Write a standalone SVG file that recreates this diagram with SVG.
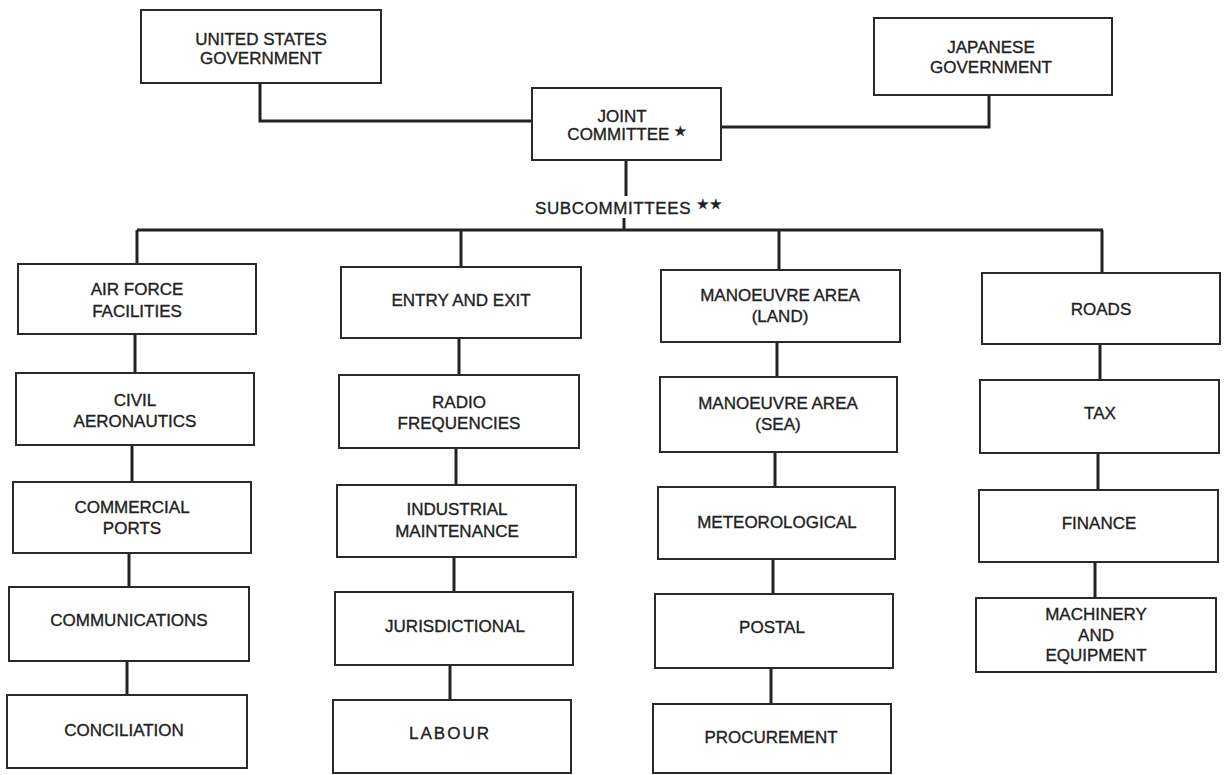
<svg xmlns="http://www.w3.org/2000/svg" width="1225" height="775" viewBox="0 0 1225 775">
<style>
.box{fill:#fff;stroke:#2a2a2a;stroke-width:2}
.lbl{font-family:"Liberation Sans",Arial,sans-serif;font-size:17px;fill:#222;stroke:#222;stroke-width:0.35;text-anchor:middle}
.star{font-family:"DejaVu Sans",sans-serif;font-size:14px}
.conn path{fill:none;stroke:#222;stroke-width:3}
</style>
<rect width="1225" height="775" fill="#fff"/>
<g class="conn" id="connectors">
<path d="M260 83 V121 H532"/>
<path d="M989 95 V127 H721"/>
<path d="M626 160 V196"/>
<path d="M624 218 V231"/>
<path d="M137 230 H1103"/>
<path d="M137 230 V265"/><path d="M135 335 V373"/><path d="M132 445 V482"/><path d="M129 553 V587"/><path d="M127 661 V695"/>
<path d="M461 230 V267"/><path d="M459 338 V375"/><path d="M456 448 V485"/><path d="M454 557 V592"/><path d="M450 665 V700"/>
<path d="M779 230 V270"/><path d="M777 342 V377"/><path d="M775 452 V487"/><path d="M773 559 V594"/><path d="M771 668 V704"/>
<path d="M1102 230 V273"/><path d="M1100 344 V380"/><path d="M1098 453 V490"/><path d="M1095 562 V598"/>
</g>
<text class="lbl" x="535" y="214" style="text-anchor:start;letter-spacing:0.6px">SUBCOMMITTEES <tspan class="star" dy="-5">★★</tspan></text>
<g id="us"><rect class="box" x="141" y="10" width="240" height="73"/><text class="lbl" x="261" y="45">UNITED STATES</text><text class="lbl" x="261" y="64">GOVERNMENT</text></g>
<g id="japan"><rect class="box" x="874" y="18" width="238" height="77"/><text class="lbl" x="991" y="53">JAPANESE</text><text class="lbl" x="991" y="73">GOVERNMENT</text></g>
<g id="joint"><rect class="box" x="532" y="88" width="189" height="72"/><text class="lbl" x="622" y="122">JOINT</text><text class="lbl" x="627" y="140">COMMITTEE <tspan class="star" dy="-4">★</tspan></text></g>

<g id="airforce"><rect class="box" x="18" y="264" width="238" height="70"/><text class="lbl" x="137" y="295">AIR FORCE</text><text class="lbl" x="137" y="317">FACILITIES</text></g>
<g id="civil"><rect class="box" x="16" y="373" width="238" height="72"/><text class="lbl" x="135" y="406">CIVIL</text><text class="lbl" x="135" y="427">AERONAUTICS</text></g>
<g id="commercial"><rect class="box" x="13" y="482" width="238" height="71"/><text class="lbl" x="132" y="513">COMMERCIAL</text><text class="lbl" x="132" y="534">PORTS</text></g>
<g id="communications"><rect class="box" x="9" y="587" width="240" height="74"/><text class="lbl" x="129" y="626">COMMUNICATIONS</text></g>
<g id="conciliation"><rect class="box" x="7" y="695" width="240" height="73"/><text class="lbl" x="124" y="736">CONCILIATION</text></g>

<g id="entry"><rect class="box" x="341" y="267" width="240" height="71"/><text class="lbl" x="461" y="306">ENTRY AND EXIT</text></g>
<g id="radio"><rect class="box" x="339" y="375" width="240" height="73"/><text class="lbl" x="459" y="408">RADIO</text><text class="lbl" x="459" y="429">FREQUENCIES</text></g>
<g id="industrial"><rect class="box" x="337" y="485" width="239" height="72"/><text class="lbl" x="457" y="515">INDUSTRIAL</text><text class="lbl" x="457" y="537">MAINTENANCE</text></g>
<g id="jurisdictional"><rect class="box" x="335" y="592" width="238" height="73"/><text class="lbl" x="455" y="632">JURISDICTIONAL</text></g>
<g id="labour"><rect class="box" x="333" y="700" width="238" height="73"/><text class="lbl" x="450" y="739" style="letter-spacing:2px">LABOUR</text></g>

<g id="land"><rect class="box" x="661" y="270" width="239" height="72"/><text class="lbl" x="780" y="301">MANOEUVRE AREA</text><text class="lbl" x="780" y="322">(LAND)</text></g>
<g id="sea"><rect class="box" x="660" y="377" width="237" height="75"/><text class="lbl" x="778" y="409">MANOEUVRE AREA</text><text class="lbl" x="778" y="430">(SEA)</text></g>
<g id="meteorological"><rect class="box" x="658" y="487" width="237" height="72"/><text class="lbl" x="777" y="528">METEOROLOGICAL</text></g>
<g id="postal"><rect class="box" x="655" y="594" width="238" height="74"/><text class="lbl" x="772" y="633">POSTAL</text></g>
<g id="procurement"><rect class="box" x="653" y="704" width="238" height="69"/><text class="lbl" x="771" y="743">PROCUREMENT</text></g>

<g id="roads"><rect class="box" x="982" y="273" width="238" height="71"/><text class="lbl" x="1101" y="315">ROADS</text></g>
<g id="tax"><rect class="box" x="980" y="380" width="239" height="73"/><text class="lbl" x="1100" y="419">TAX</text></g>
<g id="finance"><rect class="box" x="979" y="490" width="239" height="72"/><text class="lbl" x="1099" y="529">FINANCE</text></g>
<g id="machinery"><rect class="box" x="976" y="598" width="240" height="74"/><text class="lbl" x="1096" y="620">MACHINERY</text><text class="lbl" x="1096" y="641">AND</text><text class="lbl" x="1096" y="661">EQUIPMENT</text></g>
</svg>
